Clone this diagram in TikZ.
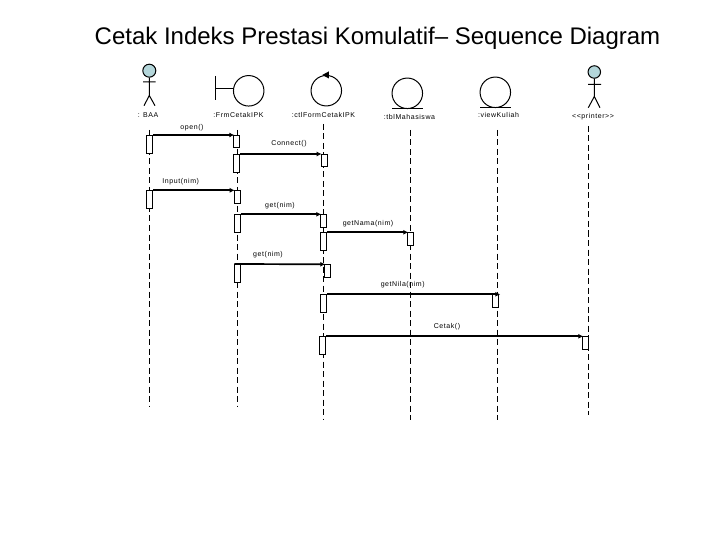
\documentclass[tikz,border=0pt]{standalone}
\usepackage{fontspec}
\setmainfont{Liberation Sans}
\newfontfamily\spaced[LetterSpace=8]{Liberation Sans}
\usetikzlibrary{arrows.meta}
\tikzset{
  x=1pt,y=-1pt,
  lbl/.style={inner sep=0pt,font=\spaced\fontsize{7}{8}\selectfont,text=black},
  msg/.style={inner sep=0pt,font=\spaced\fontsize{7}{8}\selectfont,text=black},
  lifeline/.style={draw=black,line width=1pt,dash pattern=on 6pt off 3.5pt},
  actbox/.style={draw=black,fill=white,line width=1pt,minimum width=6pt,inner sep=0pt,anchor=north west},
  shortbox/.style={actbox,minimum height=12.5pt},
  longbox/.style={actbox,minimum height=18pt},
  call/.style={draw=black,line width=1.7pt,-{Latex[length=5pt,width=5pt]},shorten >=-1pt},
  sym/.style={draw=black,line width=1pt},
  head/.style={sym,fill=headblue},
  bigcircle/.style={sym,circle,minimum size=30.5pt,inner sep=0pt}
}
\definecolor{headblue}{HTML}{B4D6DA}
\begin{document}
\begin{tikzpicture}
\useasboundingbox (0,0) rectangle (720,540);
\node[inner sep=0pt,font=\fontsize{24}{28}\selectfont,text=black] (title) at (377.5,38.5) {Cetak Indeks Prestasi Komulatif– Sequence Diagram};

% labels
\node[lbl] (lBAA) at (148,115) {: BAA};
\node[lbl] (lFrm) at (238.5,115) {:FrmCetakIPK};
\node[lbl] (lCtl) at (323.5,115) {:ctlFormCetakIPK};
\node[lbl] (lTbl) at (409.5,116.5) {:tblMahasiswa};
\node[lbl] (lVie) at (498.5,115) {:viewKuliah};
\node[lbl] (lPri) at (593,116.5) {<{}<printer>{}>};

% lifeline ends
\coordinate (t1) at (149.3,130); \coordinate (b1) at (149.3,406);
\coordinate (t2) at (237,130);   \coordinate (b2) at (237,406);
\coordinate (t3) at (323,124);   \coordinate (b3) at (323,420);
\coordinate (t4) at (410.7,130); \coordinate (b4) at (410.7,420);
\coordinate (t5) at (497,130);   \coordinate (b5) at (497,420);
\coordinate (t6) at (588,126);   \coordinate (b6) at (588,415);
\foreach \i in {1,...,6} \draw[lifeline] (t\i) -- (b\i);

% actor BAA
\node[head,circle,minimum size=13pt,inner sep=0pt] (hA) at (149.3,70.7) {};
\coordinate (hipA) at (149.3,95.5);
\coordinate (armAl) at (143,82); \coordinate (armAr) at (155.5,82);
\coordinate (legAl) at (144,105.7); \coordinate (legAr) at (155,105.7);
\draw[sym] (hA) -- (hipA) (armAl) -- (armAr) (legAl) -- (hipA) -- (legAr);

% boundary
\node[bigcircle] (cF) at (248.7,90.8) {};
\coordinate (bt) at (215.3,76); \coordinate (bb) at (215.3,100); \coordinate (bm) at (215.3,88.3);
\draw[sym] (bt) -- (bb) (bm) -- (cF.west |- bm);

% control
\node[bigcircle] (cC) at (326.3,90.7) {};
\fill[black] ([shift={(-4,0)}]cC.north) -- ([shift={(2.5,-3.5)}]cC.north) -- ([shift={(2.5,3.5)}]cC.north) -- cycle;

% entities
\node[bigcircle] (cT) at (407.3,93.3) {};
\coordinate (tl) at (392.3,108.3); \coordinate (tr) at (422.7,108.3);
\draw[sym] (tl) -- (tr);
\node[bigcircle] (cV) at (495.3,92.3) {};
\coordinate (vl) at (480,107.3); \coordinate (vr) at (510.7,107.3);
\draw[sym] (vl) -- (vr);

% actor printer
\node[head,circle,minimum size=12.5pt,inner sep=0pt] (hP) at (594.3,72) {};
\coordinate (hipP) at (594.3,96.5);
\coordinate (armPl) at (588,84.3); \coordinate (armPr) at (601,84.3);
\coordinate (legPl) at (588.3,107.7); \coordinate (legPr) at (600,107.7);
\draw[sym] (hP) -- (hipP) (armPl) -- (armPr) (legPl) -- (hipP) -- (legPr);

% activations
\node[longbox]  (a1)  at (146.3,135) {};
\node[shortbox] (a2)  at (233.3,135) {};
\node[longbox]  (a3)  at (233.3,154) {};
\node[shortbox] (a4)  at (320.7,154) {};
\node[longbox]  (a5)  at (146.3,190.3) {};
\node[shortbox] (a6)  at (233.7,190.3) {};
\node[longbox]  (a7)  at (233.7,214.3) {};
\node[shortbox] (a8)  at (320.3,214.3) {};
\node[longbox]  (a9)  at (320.3,232.3) {};
\node[shortbox] (a10) at (407.3,232.3) {};
\node[longbox]  (a11) at (234.3,264) {};
\node[shortbox] (a12) at (324.3,264.3) {};
\node[longbox]  (a13) at (320.3,294.3) {};
\node[shortbox] (a14) at (492.3,294.3) {};
\node[longbox]  (a15) at (319.3,336.3) {};
\node[shortbox] (a16) at (582.3,336.3) {};

% calls
\draw[call] (a1.north east) -- (a2.north west);
\draw[call] (a3.north east) -- (a4.north west);
\draw[call] (a5.north east) -- (a6.north west);
\draw[call] (a7.north east) -- (a8.north west);
\draw[call] (a9.north east) -- (a10.north west);
\draw[call] (a11.north west) -- (a12.north west);
\draw[call] (a13.north east) -- (a14.north east);
\draw[call] (a15.north east) -- (a16.north west);

% message labels
\node[msg] (m1) at (192,128) {open()};
\node[msg] (m2) at (289,144) {Connect()};
\node[msg] (m3) at (180.7,181.7) {Input(nim)};
\node[msg] (m4) at (280,205.7) {get(nim)};
\node[msg] (m5) at (368,223.3) {getNama(nim)};
\node[msg] (m6) at (268,254.7) {get(nim)};
\node[msg] (m7) at (402.7,284.7) {getNila(nim)};
\node[msg] (m8) at (447,326.3) {Cetak()};
\end{tikzpicture}
\end{document}
